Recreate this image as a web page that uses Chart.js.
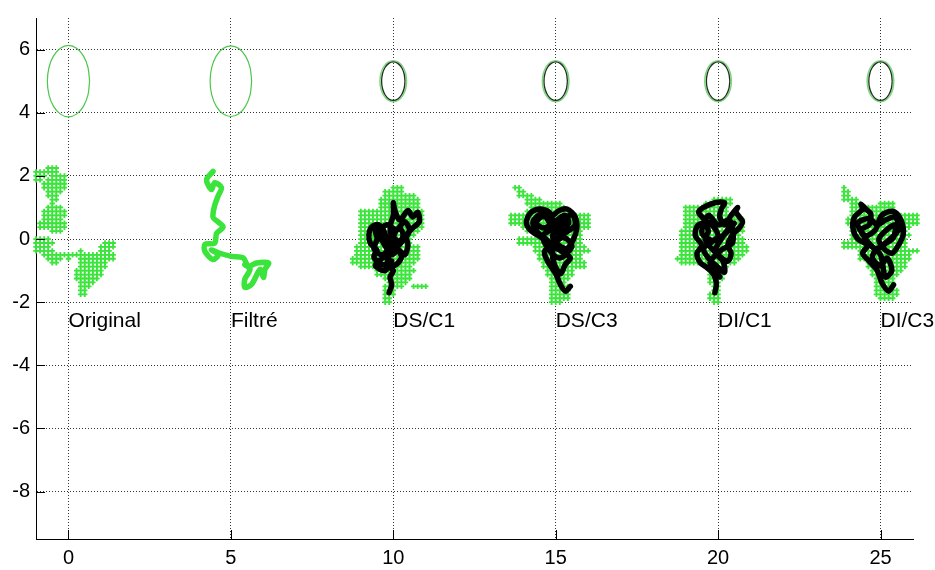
<!DOCTYPE html>
<html>
<head>
<meta charset="utf-8">
<script src="https://cdn.jsdelivr.net/npm/chart.js@4.4.0/dist/chart.umd.min.js"></script>
<style>
  html, body { margin: 0; padding: 0; background: #fff; }
  #wrap { width: 935px; height: 570px; }
</style>
</head>
<body>
<div id="wrap"><canvas id="plot" width="935" height="570"></canvas></div>
<script>
// axis ticks
const xTicks = [0, 5, 10, 15, 20, 25];
const yTicks = [-8, -6, -4, -2, 0, 2, 4, 6];

// text labels under each group
const labelNames = ["Original", "Filtré", "DS/C1", "DS/C3", "DI/C1", "DI/C3"];
const labelX = [0, 5, 10, 15, 20, 25];
const labelY = -2.6;

// ellipses at y = 5 (outer green, inner black for the four last ones)
const ellipseX = [0, 5, 10, 15, 20, 25];
const ellipseY = 5;
const outerRx = [0.65, 0.64, 0.41, 0.41, 0.41, 0.41];
const outerRy = [1.13, 1.12, 0.65, 0.65, 0.65, 0.65];
const innerRx = [null, null, 0.36, 0.36, 0.36, 0.36];
const innerRy = [null, null, 0.61, 0.61, 0.61, 0.61];
// outline of a unit circle, 16 steps
const unitX = [1, 0.924, 0.707, 0.383, 0, -0.383, -0.707, -0.924, -1, -0.924, -0.707, -0.383, 0, 0.383, 0.707, 0.924, 1];
const unitY = [0, 0.383, 0.707, 0.924, 1, 0.924, 0.707, 0.383, 0, -0.383, -0.707, -0.924, -1, -0.924, -0.707, -0.383, 0];

// green + markers sit on a 0.125 grid; each row: [y, [xFrom, xTo], ...]
const markerStep = 0.125;
const clusterCenters = [0, 10, 15, 20, 25];
const rowsOriginal = [
  [2.25, [-0.625, -0.375]],
  [2.125, [-1.0, -0.375]],
  [2.0, [-1.0, -0.75], [-0.5, -0.125]],
  [1.875, [-1.0, -0.875], [-0.625, -0.125]],
  [1.75, [-0.75, -0.125]],
  [1.625, [-0.75, -0.125]],
  [1.5, [-0.625, -0.25]],
  [1.375, [-0.625, -0.375]],
  [1.25, [-0.5, -0.375]],
  [1.125, [-0.5, -0.5]],
  [1.0, [-0.625, -0.25]],
  [0.875, [-0.75, -0.125]],
  [0.75, [-0.75, -0.125]],
  [0.625, [-0.75, -0.25]],
  [0.5, [-0.875, -0.125]],
  [0.375, [-0.875, -0.125]],
  [0.25, [-0.5, -0.25]],
  [0.0, [-1.0, -0.625]],
  [-0.125, [-1.0, -0.5], [1.125, 1.375]],
  [-0.25, [-1.0, -0.625], [1.0, 1.375]],
  [-0.375, [-1.0, -0.5], [0.375, 0.375], [1.0, 1.25]],
  [-0.5, [-0.75, 1.375]],
  [-0.625, [-0.625, -0.25], [0.0, 0.0], [0.375, 1.375]],
  [-0.75, [-0.5, -0.375], [0.375, 1.125]],
  [-0.875, [0.375, 1.125]],
  [-1.0, [0.25, 1.0]],
  [-1.125, [0.25, 1.0]],
  [-1.25, [0.25, 0.875]],
  [-1.375, [0.375, 0.75]],
  [-1.5, [0.375, 0.625]],
  [-1.625, [0.375, 0.5]],
  [-1.75, [0.375, 0.5]]
];
const rowsDSC1 = [
  [1.625, [0, 0.25]],
  [1.5, [-0.25, 0.25]],
  [1.375, [-0.25, 0.625]],
  [1.25, [-0.375, 0.75]],
  [1.125, [-0.375, 0.75]],
  [1.0, [-0.375, 0.75]],
  [0.875, [-1.0, 0.875]],
  [0.75, [-1.0, 0.875]],
  [0.625, [-1.0, 0.875]],
  [0.5, [-1.0, 0.875]],
  [0.375, [-1.0, 0.875]],
  [0.25, [-1.0, 0.75]],
  [0.125, [-1.0, 0.625]],
  [0.0, [-1.0, 0.5]],
  [-0.125, [-1.0, 0.5]],
  [-0.25, [-1.125, 0.75]],
  [-0.375, [-1.125, 0.75]],
  [-0.5, [-1.125, 0.75]],
  [-0.625, [-1.25, 0.75]],
  [-0.75, [-1.25, 0.625]],
  [-0.875, [-1.0, 0.5]],
  [-1.0, [-0.5, 0.625]],
  [-1.125, [-0.5, 0.5]],
  [-1.25, [-0.25, 0.5]],
  [-1.375, [-0.125, 0.375]],
  [-1.5, [-0.25, 0.25], [0.625, 1.0]],
  [-1.625, [-0.25, 0.0]],
  [-1.75, [-0.25, 0.0]],
  [-1.875, [-0.25, -0.125]],
  [-2.0, [-0.25, -0.125]]
];
const rowsDSC3 = [
  [1.625, [-1.25, -1.125]],
  [1.5, [-1.125, -1.0]],
  [1.375, [-1.125, -0.75]],
  [1.25, [-0.875, -0.5]],
  [1.125, [-0.875, 0.125]],
  [1.0, [-0.75, 0.25]],
  [0.875, [-0.875, 0.375]],
  [0.75, [-1.375, 1.0]],
  [0.625, [-1.375, 1.0]],
  [0.5, [-1.375, 1.0]],
  [0.375, [-1.0, 1.0]],
  [0.25, [-0.875, 0.75]],
  [0.125, [-0.625, 0.75]],
  [0.0, [-1.125, 0.75]],
  [-0.125, [-1.125, 0.75]],
  [-0.25, [-0.625, 0.875]],
  [-0.375, [-0.625, 1.0]],
  [-0.5, [-0.5, 0.75]],
  [-0.625, [-0.5, 0.75]],
  [-0.75, [-0.375, 0.875]],
  [-0.875, [-0.375, 0.875]],
  [-1.0, [-0.25, 0.5]],
  [-1.125, [-0.25, 0.5]],
  [-1.25, [-0.125, 0.375]],
  [-1.375, [-0.125, 0.25]],
  [-1.5, [-0.125, 0.375]],
  [-1.625, [-0.125, 0.375]],
  [-1.75, [-0.125, 0.375]],
  [-1.875, [-0.125, 0.375]],
  [-2.0, [-0.125, 0.125]]
];
const rowsDIC1 = [
  [1.25, [-0.125, 0.375]],
  [1.125, [-0.375, 0.375]],
  [1.0, [-1.0, 0.25]],
  [0.875, [-1.0, 0.25]],
  [0.75, [-1.0, 0.625]],
  [0.625, [-1.0, 0.75]],
  [0.5, [-1.0, 0.75]],
  [0.375, [-1.0, 0.75]],
  [0.25, [-1.125, 0.75]],
  [0.125, [-1.125, 0.625]],
  [0.0, [-1.125, 0.75]],
  [-0.125, [-1.125, 0.75]],
  [-0.25, [-1.125, 0.875]],
  [-0.375, [-1.125, 0.875]],
  [-0.5, [-1.125, 0.75]],
  [-0.625, [-1.25, 0.625]],
  [-0.75, [-1.125, 0.5]],
  [-0.875, [-0.375, 0.25]],
  [-1.0, [-0.25, 0.125]],
  [-1.125, [-0.25, 0.125]],
  [-1.25, [-0.25, 0.125]],
  [-1.375, [-0.25, 0.0]],
  [-1.5, [-0.125, 0.0]],
  [-1.625, [-0.125, 0.0]],
  [-1.75, [-0.25, 0.0]],
  [-1.875, [-0.25, 0.0]],
  [-2.0, [-0.125, 0.0]]
];
const rowsDIC3 = [
  [1.625, [-1.125, -1.125]],
  [1.5, [-1.125, -1.0]],
  [1.375, [-1.125, -1.0]],
  [1.25, [-1.125, -0.75]],
  [1.125, [-0.875, -0.625], [0.0, 0.375]],
  [1.0, [-0.875, 0.375]],
  [0.875, [-0.875, 0.375]],
  [0.75, [-0.875, 1.125]],
  [0.625, [-1.0, 1.125]],
  [0.5, [-1.0, 1.125]],
  [0.375, [-0.875, 0.875]],
  [0.25, [-0.875, 0.75]],
  [0.125, [-0.875, 0.875]],
  [0.0, [-0.875, 0.75]],
  [-0.125, [-1.125, 0.75]],
  [-0.25, [-1.125, 0.75]],
  [-0.375, [-0.625, 1.125]],
  [-0.5, [-0.625, 0.875]],
  [-0.625, [-0.625, 0.875]],
  [-0.75, [-0.375, 0.75]],
  [-0.875, [-0.375, 0.75]],
  [-1.0, [-0.25, 0.625]],
  [-1.125, [-0.25, 0.5]],
  [-1.25, [-0.125, 0.375]],
  [-1.375, [-0.125, 0.375]],
  [-1.5, [-0.125, 0.375]],
  [-1.625, [-0.125, 0.5]],
  [-1.75, [-0.125, 0.5]],
  [-1.875, [0.0, 0.375]]
];

// traces [dx, y] around each group's x
const pathFiltre = [
  [-0.55, 2.14], [-0.75, 1.88], [-0.6, 1.57], [-0.5, 1.78], [-0.29, 1.63], [-0.39, 1.37],
  [-0.5, 1.06], [-0.55, 0.69], [-0.39, 0.54], [-0.24, 0.38], [-0.44, 0.18], [-0.5, -0.13],
  [-0.8, -0.17], [-0.8, -0.39], [-0.55, -0.65], [-0.39, -0.5], [-0.6, -0.34], [-0.34, -0.45],
  [0.02, -0.55], [0.38, -0.6], [0.54, -0.86], [0.79, -0.76], [1.16, -0.76], [1.05, -0.96],
  [1.0, -1.22], [0.9, -0.96], [0.64, -1.43], [0.43, -1.53], [0.43, -1.27], [0.59, -0.96], [0.43, -0.81]
];
const pathDSC1 = [
  [-0.13, -1.7], [-0.05, -1.45], [-0.1, -1.2], [0.0, -1.0], [-0.2, -0.85], [-0.45, -0.75],
  [-0.6, -0.55], [-0.5, -0.35], [-0.7, -0.15], [-0.75, 0.15], [-0.65, 0.4], [-0.45, 0.45],
  [-0.3, 0.25], [-0.35, 0.0], [-0.2, -0.3], [-0.05, -0.5], [0.15, -0.35], [0.35, -0.5],
  [0.45, -0.2], [0.4, 0.1], [0.6, 0.35], [0.8, 0.55], [0.75, 0.85], [0.6, 0.7], [0.45, 0.9],
  [0.2, 0.6], [0.05, 0.9], [0.0, 1.15], [0.0, 0.75], [-0.1, 0.4], [-0.05, 0.1], [0.15, -0.1],
  [-0.1, -0.3], [-0.35, -0.5], [-0.6, -0.3], [-0.5, 0.0], [-0.55, 0.3], [-0.35, 0.35],
  [-0.2, 0.05], [0.1, -0.2], [0.3, 0.1], [0.2, 0.35], [0.05, 0.2], [-0.15, -0.6], [-0.2, -0.9],
  [0.1, -0.8], [0.25, -0.55], [0.05, -0.25], [-0.3, -0.1], [-0.45, 0.2], [-0.2, 0.45], [0.1, 0.3],
  [0.35, 0.55], [0.5, 0.25], [0.25, -0.1], [-0.05, -0.45], [-0.4, -0.65], [-0.55, -0.85],
  [-0.25, -1.0], [-0.05, -0.7]
];
const pathDSC3 = [
  [0.45, -1.5], [0.3, -1.65], [0.15, -1.45], [0.0, -1.1], [-0.25, -0.7], [-0.35, -0.4],
  [-0.2, -0.2], [-0.45, 0.05], [-0.75, 0.25], [-0.9, 0.5], [-0.8, 0.8], [-0.5, 0.95],
  [-0.2, 0.85], [-0.1, 0.55], [-0.35, 0.35], [-0.6, 0.5], [-0.45, 0.7], [-0.15, 0.7],
  [0.1, 0.9], [0.35, 0.95], [0.6, 0.7], [0.65, 0.35], [0.55, 0.0], [0.35, -0.3], [0.1, -0.2],
  [-0.1, 0.1], [0.15, 0.3], [0.4, 0.5], [0.3, 0.75], [0.05, 0.6], [-0.15, 0.3], [-0.4, 0.1],
  [-0.2, -0.35], [0.1, -0.6], [0.35, -0.45], [0.5, -0.2], [0.25, 0.05], [0.0, -0.1],
  [-0.1, -0.5], [0.0, -0.9], [0.15, -1.1], [0.3, -0.8], [0.45, -0.6], [0.2, -0.4],
  [-0.05, -0.25], [-0.3, 0.0], [-0.55, 0.2], [-0.7, 0.55], [-0.4, 0.8], [-0.05, 0.35],
  [0.25, 0.55], [0.5, 0.8], [0.6, 0.45], [0.3, 0.2], [0.0, 0.0]
];
const pathDIC1 = [
  [-0.1, -1.7], [-0.05, -1.4], [-0.15, -1.1], [-0.35, -0.9], [-0.55, -0.75], [-0.65, -0.45],
  [-0.5, -0.2], [-0.7, 0.1], [-0.65, 0.4], [-0.45, 0.5], [-0.3, 0.25], [-0.4, 0.0],
  [-0.2, -0.3], [0.05, -0.55], [0.3, -0.7], [0.4, -0.45], [0.3, -0.2], [0.45, 0.15],
  [0.65, 0.35], [0.75, 0.55], [0.55, 0.85], [0.6, 1.0], [0.4, 0.75], [0.2, 0.45], [0.05, 0.7],
  [0.1, 0.95], [0.2, 1.15], [-0.1, 1.15], [-0.45, 1.0], [-0.6, 0.85], [-0.4, 0.6], [-0.15, 0.4],
  [0.0, 0.1], [-0.2, -0.1], [-0.45, -0.3], [-0.3, -0.6], [0.0, -0.9], [0.2, -1.05],
  [0.15, -0.7], [-0.1, -0.4], [0.1, 0.0], [0.3, 0.3], [0.5, 0.5], [0.2, 0.15], [-0.15, -0.05],
  [-0.5, 0.2], [-0.3, 0.75], [0.0, 0.45], [0.35, 0.6], [0.45, -0.1], [0.1, -0.35],
  [-0.25, -0.75], [0.05, -1.2]
];
const pathDIC3 = [
  [0.4, -1.45], [0.25, -1.65], [0.05, -1.4], [-0.1, -1.0], [-0.35, -0.7], [-0.55, -0.45],
  [-0.4, -0.2], [-0.7, 0.0], [-0.85, 0.35], [-0.8, 0.7], [-0.55, 0.95], [-0.6, 1.1],
  [-0.45, 0.95], [-0.3, 0.8], [-0.35, 0.45], [-0.6, 0.3], [-0.45, 0.1], [-0.15, 0.3],
  [0.0, 0.7], [0.2, 0.85], [0.45, 0.85], [0.65, 0.55], [0.7, 0.15], [0.55, -0.2], [0.35, -0.45],
  [0.1, -0.3], [-0.05, 0.0], [0.2, 0.3], [0.45, 0.45], [0.4, 0.05], [0.15, -0.15], [-0.15, -0.35],
  [-0.25, -0.6], [0.0, -0.85], [0.2, -0.6], [0.35, -1.0], [0.15, -1.2], [0.0, -0.5],
  [-0.3, -0.2], [-0.55, 0.15], [-0.7, 0.5], [-0.35, 0.65], [-0.1, 0.45], [0.15, 0.6],
  [0.45, 0.7], [0.55, 0.3], [0.3, 0.0], [0.05, -0.2]
];

const GREEN = "#3ae43a";
const FONT = "'Liberation Sans', Arial, sans-serif";

function expandRows(rows, cx) {
  const pts = [];
  rows.forEach(([y, ...spans]) => {
    spans.forEach(([a, b]) => {
      for (let x = a; x <= b + 1e-9; x += markerStep) pts.push({ x: cx + x, y: y });
    });
  });
  return pts;
}
function shiftPath(path, cx) {
  return path.map(([dx, y]) => ({ x: cx + dx, y: y }));
}
function ellipse(cx, cy, rx, ry) {
  return unitX.map((u, i) => ({ x: cx + u * rx, y: cy + unitY[i] * ry }));
}

const datasets = [];
[rowsOriginal, rowsDSC1, rowsDSC3, rowsDIC1, rowsDIC3].forEach((rows, i) => {
  datasets.push({
    data: expandRows(rows, clusterCenters[i]),
    showLine: false, pointStyle: "cross", pointRadius: 2.7, pointBorderWidth: 1.8,
    pointBorderColor: GREEN, pointBackgroundColor: GREEN, order: 10, clip: false
  });
});
datasets.push({
  data: shiftPath(pathFiltre, 5), showLine: true, borderColor: GREEN, borderWidth: 5.5,
  tension: 0.3, pointRadius: 0, borderJoinStyle: "round", borderCapStyle: "round", order: 5
});
[[pathDSC1, 10], [pathDSC3, 15], [pathDIC1, 20], [pathDIC3, 25]].forEach(([p, cx]) => {
  datasets.push({
    data: shiftPath(p, cx), showLine: true, borderColor: "#000", borderWidth: 5.5,
    tension: 0.3, pointRadius: 0, borderJoinStyle: "round", borderCapStyle: "round", order: 4
  });
});
ellipseX.forEach((cx, i) => {
  datasets.push({
    data: ellipse(cx, ellipseY, outerRx[i], outerRy[i]), showLine: true,
    borderColor: i < 2 ? "#4cc64c" : "#7cd67c", borderWidth: i < 2 ? 1.2 : 1.5,
    tension: 0.35, pointRadius: 0, order: 2
  });
  if (innerRx[i] !== null) {
    datasets.push({
      data: ellipse(cx, ellipseY, innerRx[i], innerRy[i]), showLine: true,
      borderColor: "#203020", borderWidth: 1.3, tension: 0.35, pointRadius: 0, order: 1
    });
  }
});

// group names written in the plot, and MATLAB style inward ticks
const extras = {
  id: "extras",
  afterDatasetsDraw(chart) {
    const { ctx, scales: { x, y }, chartArea } = chart;
    ctx.save();
    ctx.fillStyle = "#000";
    ctx.font = "21px " + FONT;
    ctx.textAlign = "left";
    ctx.textBaseline = "middle";
    labelNames.forEach((t, i) => {
      ctx.fillText(t, x.getPixelForValue(labelX[i]), y.getPixelForValue(labelY));
    });
    ctx.strokeStyle = "#000";
    ctx.lineWidth = 1;
    ctx.beginPath();
    xTicks.forEach(v => {
      const px = Math.round(x.getPixelForValue(v)) + 0.5;
      ctx.moveTo(px, chartArea.bottom);
      ctx.lineTo(px, chartArea.bottom - 9);
    });
    yTicks.forEach(v => {
      const py = Math.round(y.getPixelForValue(v)) + 0.5;
      ctx.moveTo(chartArea.left, py);
      ctx.lineTo(chartArea.left + 9, py);
    });
    ctx.stroke();
    ctx.restore();
  }
};

new Chart(document.getElementById("plot").getContext("2d"), {
  type: "scatter",
  data: { datasets: datasets },
  plugins: [extras],
  options: {
    responsive: false,
    animation: false,
    layout: { padding: { top: 8, right: 22, left: 0, bottom: 0 } },
    plugins: { legend: { display: false }, tooltip: { enabled: false } },
    scales: {
      x: {
        type: "linear", min: -1, max: 26,
        afterBuildTicks: s => { s.ticks = xTicks.map(v => ({ value: v })); },
        afterFit: s => { s.height = 31; },
        ticks: { color: "#000", font: { family: FONT, size: 20 }, padding: 7, maxRotation: 0 },
        grid: { color: "rgba(0,0,0,0.8)", drawTicks: false, lineWidth: 1 },
        border: { display: true, color: "#000", width: 1, dash: [1, 2] }
      },
      y: {
        type: "linear", min: -9.5, max: 7,
        afterBuildTicks: s => { s.ticks = yTicks.map(v => ({ value: v })); },
        afterFit: s => { s.width = 36; },
        ticks: { color: "#000", font: { family: FONT, size: 20 }, padding: 6 },
        grid: { color: "rgba(0,0,0,0.8)", drawTicks: false, lineWidth: 1 },
        border: { display: true, color: "#000", width: 1, dash: [1, 2] }
      }
    }
  }
});
</script>
</body>
</html>
